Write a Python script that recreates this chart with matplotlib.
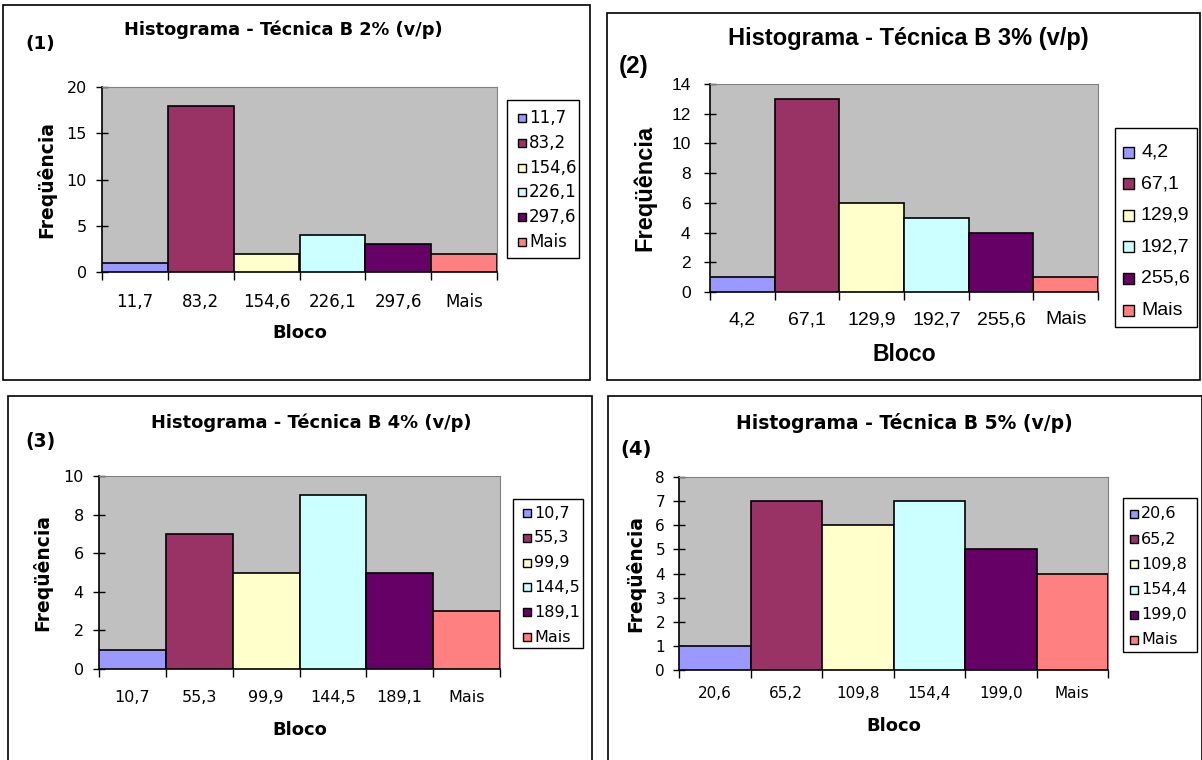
import matplotlib
matplotlib.use("Agg")
import matplotlib.pyplot as plt
from matplotlib.patches import Rectangle

W, H = 1202, 760

colors = ["#9999FF", "#993366", "#FFFFCC", "#CCFFFF", "#660066", "#FF8080"]

bins_1 = ["11,7", "83,2", "154,6", "226,1", "297,6", "Mais"]
freq_1 = [1, 18, 2, 4, 3, 2]
bins_2 = ["4,2", "67,1", "129,9", "192,7", "255,6", "Mais"]
freq_2 = [1, 13, 6, 5, 4, 1]
bins_3 = ["10,7", "55,3", "99,9", "144,5", "189,1", "Mais"]
freq_3 = [1, 7, 5, 9, 5, 3]
bins_4 = ["20,6", "65,2", "109,8", "154,4", "199,0", "Mais"]
freq_4 = [1, 7, 6, 7, 5, 4]

titles = ["Histograma - Técnica B 2% (v/p)", "Histograma - Técnica B 3% (v/p)",
          "Histograma - Técnica B 4% (v/p)", "Histograma - Técnica B 5% (v/p)"]
tags = ["(1)", "(2)", "(3)", "(4)"]


def fx(px): return px / W
def fy(py): return 1 - py / H


def frame(x0, y0, x1, y1, ec="black", fc="none", lw=1.2, z=1):
    fig.patches.append(Rectangle((fx(x0), fy(y1)), fx(x1) - fx(x0), fy(y0) - fy(y1), transform=fig.transFigure,
                                 fc=fc, ec=ec, lw=lw, zorder=z))


# layout in pixels: frame, plot area, title centre, tag, axis-label positions, legend box, font sizes
panels = [
    dict(bins=bins_1, freq=freq_1, ymax=20, ystep=5, frame=(3, 5, 590, 380), plot=(102, 87, 497, 272),
         title=(283, 30), tag=(25, 44), ylab=46, xlab=333, tick_y=302, ypad=7,
         leg=(507, 100, 579, 258), leg_y0=118, leg_dy=24.8, mk=(518, 8), leg_tx=529,
         fs_t=12.8, fs_x=12, fs_y=11.5, fs_lab=13.5, fs_b=13, fs_leg=12, font="DejaVu Sans"),
    dict(bins=bins_2, freq=freq_2, ymax=14, ystep=2, frame=(607, 13, 1200, 380), plot=(710, 84, 1098, 292),
         title=(908, 39), tag=(619, 67), ylab=645, xlab=355, tick_y=320, ypad=10,
         leg=(1115, 128, 1197, 327), leg_y0=152, leg_dy=31.6, mk=(1123, 11), leg_tx=1141,
         fs_t=17, fs_x=14, fs_y=12.5, fs_lab=17, fs_b=16.6, fs_leg=14, font="Liberation Sans"),
    dict(bins=bins_3, freq=freq_3, ymax=10, ystep=2, frame=(8, 396, 592, 762), plot=(99, 476, 500, 669),
         title=(311, 423), tag=(25, 442), ylab=42, xlab=730, tick_y=698, ypad=7,
         leg=(513, 499, 583, 648), leg_y0=513, leg_dy=24.8, mk=(523, 8), leg_tx=534,
         fs_t=12.9, fs_x=11.5, fs_y=11.5, fs_lab=13.5, fs_b=13, fs_leg=11.5, font="DejaVu Sans"),
    dict(bins=bins_4, freq=freq_4, ymax=8, ystep=1, frame=(608, 396, 1202, 762), plot=(679, 477, 1108, 670),
         title=(904, 423), tag=(620, 450), ylab=635, xlab=726, tick_y=693, ypad=6,
         leg=(1123, 498, 1197, 652), leg_y0=514, leg_dy=25.2, mk=(1130, 8), leg_tx=1141,
         fs_t=13.5, fs_x=11, fs_y=11, fs_lab=13.5, fs_b=13, fs_leg=11.5, font="DejaVu Sans"),
]

fig = plt.figure(figsize=(W / 100, H / 100), dpi=100)

for p, title, tag in zip(panels, titles, tags):
    font = p["font"]
    frame(*p["frame"])
    px0, py0, px1, py1 = p["plot"]
    ax = fig.add_axes([fx(px0), fy(py1), fx(px1) - fx(px0), fy(py0) - fy(py1)])
    ax.set_facecolor("#C0C0C0")
    n = len(p["freq"])
    ax.bar(range(n), p["freq"], width=1, align="edge", color=colors, edgecolor="black", lw=1.2, zorder=3)
    ax.set_xlim(0, n)
    ax.set_ylim(0, p["ymax"])
    ax.set_yticks(range(0, p["ymax"] + 1, p["ystep"]))
    ax.set_xticks(range(n + 1))
    ax.set_xticklabels([])
    ax.set_xticks([i + 0.5 for i in range(n)], minor=True)
    ax.set_xticklabels(p["bins"], minor=True, fontsize=p["fs_x"], family=font, va="center")
    ax.tick_params(axis="x", which="minor", length=0, pad=(p["tick_y"] - py1) * 0.72)
    ax.tick_params(axis="x", which="major", direction="out", length=6, width=1)
    ax.tick_params(axis="y", direction="inout", length=8, width=1, labelsize=p["fs_y"], pad=p["ypad"])
    for lbl in ax.get_yticklabels():
        lbl.set_family(font)
    for s in ("top", "right"):
        ax.spines[s].set_color("#808080")
    for s in ("left", "bottom"):
        ax.spines[s].set_color("black")
        ax.spines[s].set_linewidth(1.2)

    fig.text(fx(p["title"][0]), fy(p["title"][1]), title, ha="center", va="center",
             fontsize=p["fs_t"], fontweight="bold", family=font)
    fig.text(fx(p["tag"][0]), fy(p["tag"][1]), tag, ha="left", va="center",
             fontsize=p["fs_t"] + 0.5, fontweight="bold", family=font)
    fig.text(fx(p["ylab"]), fy((py0 + py1) / 2), "Freqüência", rotation=90, ha="center", va="center",
             fontsize=p["fs_lab"], fontweight="bold", family=font)
    fig.text(fx((px0 + px1) / 2), fy(p["xlab"]), "Bloco", ha="center", va="center",
             fontsize=p["fs_b"], fontweight="bold", family=font)

    # legend drawn by hand: white box, square swatches, labels
    frame(*p["leg"], ec="black", fc="white", lw=1.0)
    mx, ms = p["mk"]
    for i, (lab, c) in enumerate(zip(p["bins"], colors)):
        yc = p["leg_y0"] + i * p["leg_dy"]
        frame(mx, yc - ms / 2, mx + ms, yc + ms / 2, ec="black", fc=c, lw=1.0, z=2)
        fig.text(fx(p["leg_tx"]), fy(yc), lab, ha="left", va="center", fontsize=p["fs_leg"], family=font)

fig.savefig("out.png", dpi=100, facecolor="white")
